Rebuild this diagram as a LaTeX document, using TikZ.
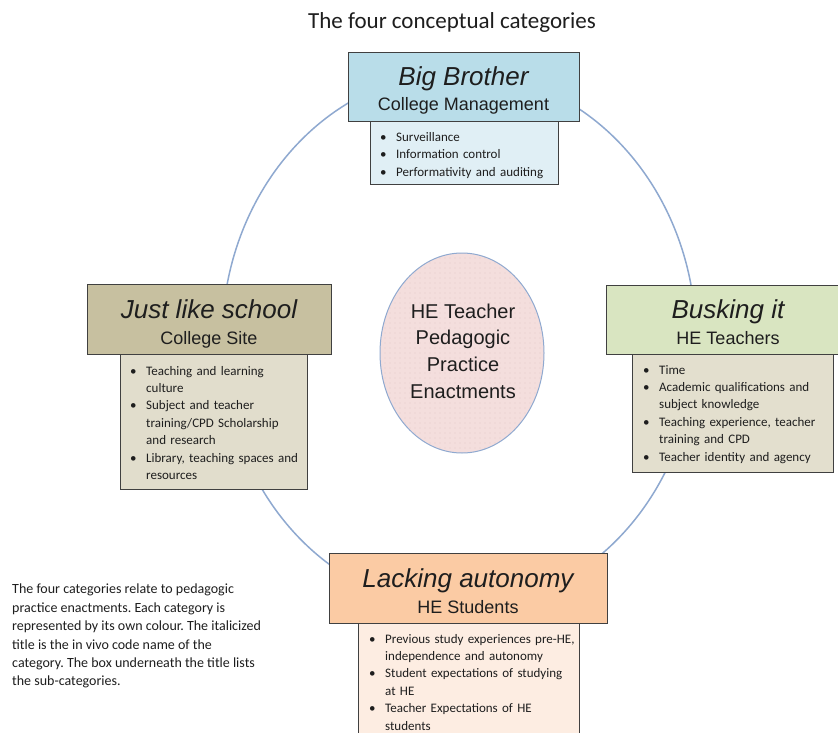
\documentclass[tikz,border=0pt]{standalone}
\usepackage{fontspec}
\setmainfont{Carlito}
\newfontfamily\arialf{Liberation Sans}
\usetikzlibrary{shapes.geometric,patterns.meta}
\definecolor{bbhead}{HTML}{B9DDE9}
\definecolor{bbsub}{HTML}{E0EFF5}
\definecolor{jlhead}{HTML}{C7C0A0}
\definecolor{jlsub}{HTML}{E1DDCC}
\definecolor{bkhead}{HTML}{D9E5C1}
\definecolor{bksub}{HTML}{E3DFCE}
\definecolor{lahead}{HTML}{FBCBA4}
\definecolor{lasub}{HTML}{FDEDE2}
\definecolor{boxline}{HTML}{404040}
\definecolor{ringline}{HTML}{8FA9D0}
\definecolor{cpink}{HTML}{F4DEDD}
\definecolor{cdots}{HTML}{C9A7A7}
\definecolor{txt}{HTML}{1E1E1E}
\frenchspacing
\newlength\ibw
\setlength\ibw{16pt}
\newcommand{\itm}[1]{\par\hangindent=\ibw\hangafter=1\noindent\makebox[\ibw][l]{\textbullet}#1}
\begin{document}
\begin{tikzpicture}[x=1pt,y=-1pt,
  headbox/.style={draw=boxline, line width=1.2pt, inner sep=0pt},
  subbox/.style={draw=boxline, line width=1.2pt, inner sep=0pt},
  ttl/.style={font=\arialf\itshape\fontsize{26}{30}\selectfont, text=txt, inner sep=0pt},
  sttl/.style={font=\arialf\fontsize{18}{22}\selectfont, text=txt, inner sep=0pt},
  lst/.style={font=\fontsize{13}{17.4}\selectfont, text=txt, inner sep=0pt, align=left, text width=230pt},
]
\useasboundingbox (0,0) rectangle (838,733);
\clip (0,0) rectangle (838,733);
\fill[white] (0,0) rectangle (838,733);

% title
\node[font=\fontsize{23}{26}\selectfont, text=txt, inner sep=0pt] (title) at (452,22) {The four conceptual categories};

% ring
\node[draw=ringline, line width=1.5pt, ellipse, minimum width=474pt, minimum height=536pt, inner sep=0pt] (ring) at (459,340) {};

% centre
\node[ellipse, draw=ringline, line width=1pt, minimum width=164pt, minimum height=200pt, inner sep=0pt,
      preaction={fill=cpink}, pattern={Dots[distance=5pt,radius=0.45pt]}, pattern color=cdots] (centre) at (462,353) {};
\node[font=\arialf\fontsize{20}{26.7}\selectfont, text=txt, align=center, inner sep=0pt] (centretxt) at (463,351)
  {HE Teacher\\Pedagogic\\Practice\\Enactments};

% Big Brother
\node[subbox, fill=bbsub, minimum width=188pt, minimum height=63pt, anchor=north west] (bbsub) at (370,121) {};
\node[headbox, fill=bbhead, minimum width=231pt, minimum height=69pt, anchor=north west] (bbhead) at (348,52) {};
\node[ttl, anchor=base] (bbt) at (463.5,86) {Big Brother};
\node[sttl, anchor=base] (bbs) at (463.5,111) {College Management};
\node[lst, anchor=north west] (bbl) at (380,124)
  {\itm{Surveillance}\itm{Information control}\itm{Performativity and auditing}\par};

% Just like school
\node[subbox, fill=jlsub, minimum width=187pt, minimum height=135pt, anchor=north west] (jlsub) at (120,354) {};
\node[headbox, fill=jlhead, minimum width=244pt, minimum height=70pt, anchor=north west] (jlhead) at (87,284) {};
\node[ttl, anchor=base] (jlt) at (209,318) {Just like school};
\node[sttl, anchor=base] (jls) at (209,344) {College Site};
\node[lst, anchor=north west] (jll) at (130,357.5)
  {\itm{Teaching and learning\newline culture}\itm{Subject and teacher\newline training/CPD Scholarship\newline and research}\itm{Library, teaching spaces and\newline resources}\par};

% Busking it
\node[subbox, fill=bksub, minimum width=201pt, minimum height=118pt, anchor=north west] (bksub) at (632,354) {};
\node[headbox, fill=bkhead, minimum width=244pt, minimum height=69pt, anchor=north west] (bkhead) at (606,285) {};
\node[ttl, anchor=base] (bkt) at (728,318) {Busking it};
\node[sttl, anchor=base] (bks) at (728,344) {HE Teachers};
\node[lst, anchor=north west] (bkl) at (643,356.5)
  {\itm{Time}\itm{Academic qualifications and\newline subject knowledge}\itm{Teaching experience, teacher\newline training and CPD}\itm{Teacher identity and agency}\par};

% Lacking autonomy
\node[subbox, fill=lasub, minimum width=221pt, minimum height=130pt, anchor=north west] (lasub) at (358,623) {};
\node[headbox, fill=lahead, minimum width=278pt, minimum height=70pt, anchor=north west] (lahead) at (329,553) {};
\node[ttl, anchor=base] (lat) at (468,587) {Lacking autonomy};
\node[sttl, anchor=base] (las) at (468,613) {HE Students};
\node[lst, anchor=north west] (lal) at (369,625.5)
  {\itm{Previous study experiences pre-HE,\newline independence and autonomy}\itm{Student expectations of studying\newline at HE}\itm{Teacher Expectations of HE\newline students}\par};

% note
\node[font=\fontsize{14}{18.4}\selectfont, text=txt, align=left, inner sep=0pt, anchor=north west] (note) at (12,584)
  {The four categories relate to pedagogic\\practice enactments. Each category is\\represented by its own colour. The italicized\\title is the in vivo code name of the\\category. The box underneath the title lists\\the sub-categories.};
\end{tikzpicture}
\end{document}
